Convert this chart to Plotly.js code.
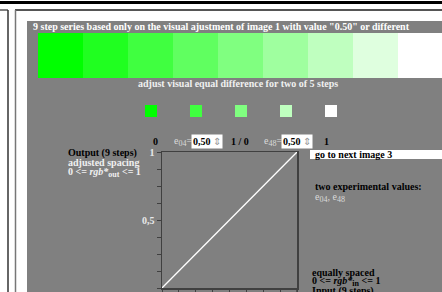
<!DOCTYPE html>
<html><head><meta charset="utf-8">
<script src="https://cdn.plot.ly/plotly-3.0.1.min.js"></script>
<style>html,body{margin:0;padding:0;background:#fff}#chart{width:442px;height:292px}</style>
</head><body><div id="chart"></div>
<script>
// ---- data ----
var stripSteps = [1, 2, 3, 4, 5, 6, 7, 8, 9];
var stripHeight = [1, 1, 1, 1, 1, 1, 1, 1, 1];
var stripColors = ['#00ff00', '#20ff20', '#40ff40', '#60ff60', '#80ff80', '#9fff9f', '#bfffbf', '#dfffdf', '#ffffff'];
var squareSteps = [1, 2, 3, 4, 5];
var squareLevel = [0, 0, 0, 0, 0];
var squareColors = ['#00ff00', '#40ff40', '#80ff80', '#bfffbf', '#ffffff'];
var inputLevels = [0, 0.125, 0.25, 0.375, 0.5, 0.625, 0.75, 0.875, 1];
var outputLevels = [0, 0.125, 0.25, 0.375, 0.5, 0.625, 0.75, 0.875, 1];
var yTickVals = [0, 0.5, 1];
var yTickText = ['0', '0,5', '1'];
var minorTickStep = 0.125;
var xLabelVals = [0, 0.5, 1];
var xLabelText = ['0', '0,5', '1'];

var W = 442, H = 292;
function px(x) { return x / W; }
function py(y) { return 1 - y / H; }
var SERIF = 'Liberation Serif, Times New Roman, serif';
var FS = 10;
function sub(t) { return '<sub><span style="font-size:8px">' + t + '</span></sub>'; }

var traces = [
  { type: 'bar', x: stripSteps, y: stripHeight, width: 1, xaxis: 'x2', yaxis: 'y2',
    marker: { color: stripColors, line: { width: 0 } }, hoverinfo: 'skip', showlegend: false },
  { type: 'scatter', mode: 'markers', x: squareSteps, y: squareLevel, xaxis: 'x3', yaxis: 'y3',
    marker: { symbol: 'square', size: 12, color: squareColors, line: { width: 0 } }, hoverinfo: 'skip', showlegend: false },
  { type: 'scatter', mode: 'lines', x: inputLevels, y: outputLevels, xaxis: 'x', yaxis: 'y',
    line: { color: '#ffffff', width: 1.3 }, hoverinfo: 'skip', showlegend: false }
];

function ann(x, y, text, color, opts) {
  var a = { xref: 'paper', yref: 'paper', x: px(x), y: py(y), text: text, showarrow: false,
    xanchor: 'left', yanchor: 'middle', font: { family: SERIF, size: FS, color: color, weight: 'bold' } };
  if (opts) for (var k in opts) a[k] = opts[k];
  return a;
}
var light = { family: SERIF, size: FS, color: '#dadada', weight: 'normal' };

var annotations = [
  ann(31, 26, '9 step series based only on the visual ajustment of image 1 with value "0.50" or different', '#ffffff'),
  ann(238, 83, 'adjust visual equal difference for two of 5 steps', '#f0f0f0', { xanchor: 'center' }),
  ann(151, 141, '0', '#000000'),
  ann(172, 141, 'e' + sub('04') + '=', '#dadada', { font: light }),
  ann(191, 141, '0,50 <span style="color:#999;font-weight:normal">⇕</span>', '#000000', { bgcolor: '#ffffff', borderpad: 1 }),
  ann(229, 141, '1 / 0', '#000000'),
  ann(262, 141, 'e' + sub('48') + '=', '#dadada', { font: light }),
  ann(281, 141, '0,50 <span style="color:#999;font-weight:normal">⇕</span>', '#000000', { bgcolor: '#ffffff', borderpad: 1 }),
  ann(322, 141, '1', '#000000'),
  ann(66, 153, 'Output (9 steps)', '#000000'),
  ann(66, 162.5, 'adjusted spacing', '#f0f0f0'),
  ann(66, 172, '0 &lt;= <i>rgb*</i>' + sub('out') + ' &lt;= 1', '#f0f0f0'),
  ann(313, 154.5, 'go to next image 3', '#000000'),
  ann(313, 186, 'two experimental values:', '#000000'),
  ann(313, 197, 'e' + sub('04') + ', e' + sub('48'), '#dadada', { font: light }),
  ann(310, 272, 'equally spaced', '#000000'),
  ann(310, 281, '0 &lt;= <i>rgb*</i>' + sub('in') + ' &lt;= 1', '#000000'),
  ann(310, 291, 'Input (9 steps)', '#000000')
];
for (var i = 0; i < xLabelVals.length; i++) {
  annotations.push({ xref: 'x', yref: 'paper', x: xLabelVals[i], y: py(288), text: xLabelText[i], showarrow: false,
    xanchor: 'left', yanchor: 'top', xshift: 1, font: { family: SERIF, size: FS, color: '#000000', weight: 'bold' } });
}

var shapes = [
  { type: 'rect', xref: 'paper', yref: 'paper', x0: px(27), x1: 1, y0: 0, y1: py(21), fillcolor: '#808080', line: { width: 0 }, layer: 'below' },
  { type: 'rect', xref: 'paper', yref: 'paper', x0: 0, x1: 1, y0: py(4), y1: py(1), fillcolor: '#000000', line: { width: 0 } },
  { type: 'line', xref: 'paper', yref: 'paper', x0: px(15), x1: 1, y0: py(10), y1: py(10), line: { color: '#555555', width: 2 } },
  { type: 'line', xref: 'paper', yref: 'paper', x0: 0, x1: px(8), y0: py(10), y1: py(10), line: { color: '#555555', width: 1.5 } },
  { type: 'line', xref: 'paper', yref: 'paper', x0: px(8), x1: px(8), y0: 0, y1: py(10), line: { color: '#333333', width: 1.5 } },
  { type: 'line', xref: 'paper', yref: 'paper', x0: px(15.5), x1: px(15.5), y0: 0, y1: py(10), line: { color: '#777777', width: 1.5 } },
  { type: 'rect', xref: 'paper', yref: 'paper', x0: px(310), x1: 1, y0: py(159), y1: py(150), fillcolor: '#ffffff', line: { width: 0 } },
  { type: 'line', xref: 'paper', yref: 'paper', x0: px(297), x1: px(297), y0: 0, y1: py(288), line: { color: '#404040', width: 1.5 } }
];

var axisCommon = { showgrid: false, zeroline: false, fixedrange: true };
var layout = {
  width: W, height: H, margin: { l: 0, r: 0, t: 0, b: 0 },
  paper_bgcolor: '#ffffff', plot_bgcolor: 'rgba(0,0,0,0)', showlegend: false,
  font: { family: SERIF, size: FS },
  xaxis: Object.assign({}, axisCommon, { domain: [px(162), px(297)], range: [0, 1], showline: true, linecolor: '#404040', linewidth: 1.5,
    mirror: true, ticks: 'outside', ticklen: 4, tickcolor: '#404040', tickmode: 'linear', tick0: 0, dtick: minorTickStep, showticklabels: false }),
  yaxis: Object.assign({}, axisCommon, { domain: [py(288), py(152)], range: [0, 1], showline: true, linecolor: '#404040', linewidth: 1.5,
    mirror: true, ticks: 'outside', ticklen: 4, tickcolor: '#404040', tickmode: 'array', tickvals: yTickVals, ticktext: yTickText,
    minor: { ticks: 'outside', ticklen: 4, tickcolor: '#404040', tick0: 0, dtick: minorTickStep, showgrid: false },
    tickfont: { family: SERIF, size: FS, color: '#e8e8e8', weight: 'bold' } }),
  xaxis2: Object.assign({}, axisCommon, { domain: [px(38), 1], range: [0.5, 9.48], visible: false, anchor: 'y2' }),
  yaxis2: Object.assign({}, axisCommon, { domain: [py(78), py(33)], range: [0, 1], visible: false, anchor: 'x2' }),
  xaxis3: Object.assign({}, axisCommon, { domain: [px(128.5), px(353.5)], range: [0.5, 5.5], visible: false, anchor: 'y3' }),
  yaxis3: Object.assign({}, axisCommon, { domain: [py(121), py(101)], range: [-1, 1], visible: false, anchor: 'x3' }),
  bargap: 0,
  shapes: shapes,
  annotations: annotations
};
Plotly.newPlot('chart', traces, layout, { staticPlot: true, displayModeBar: false });
</script></body></html>
